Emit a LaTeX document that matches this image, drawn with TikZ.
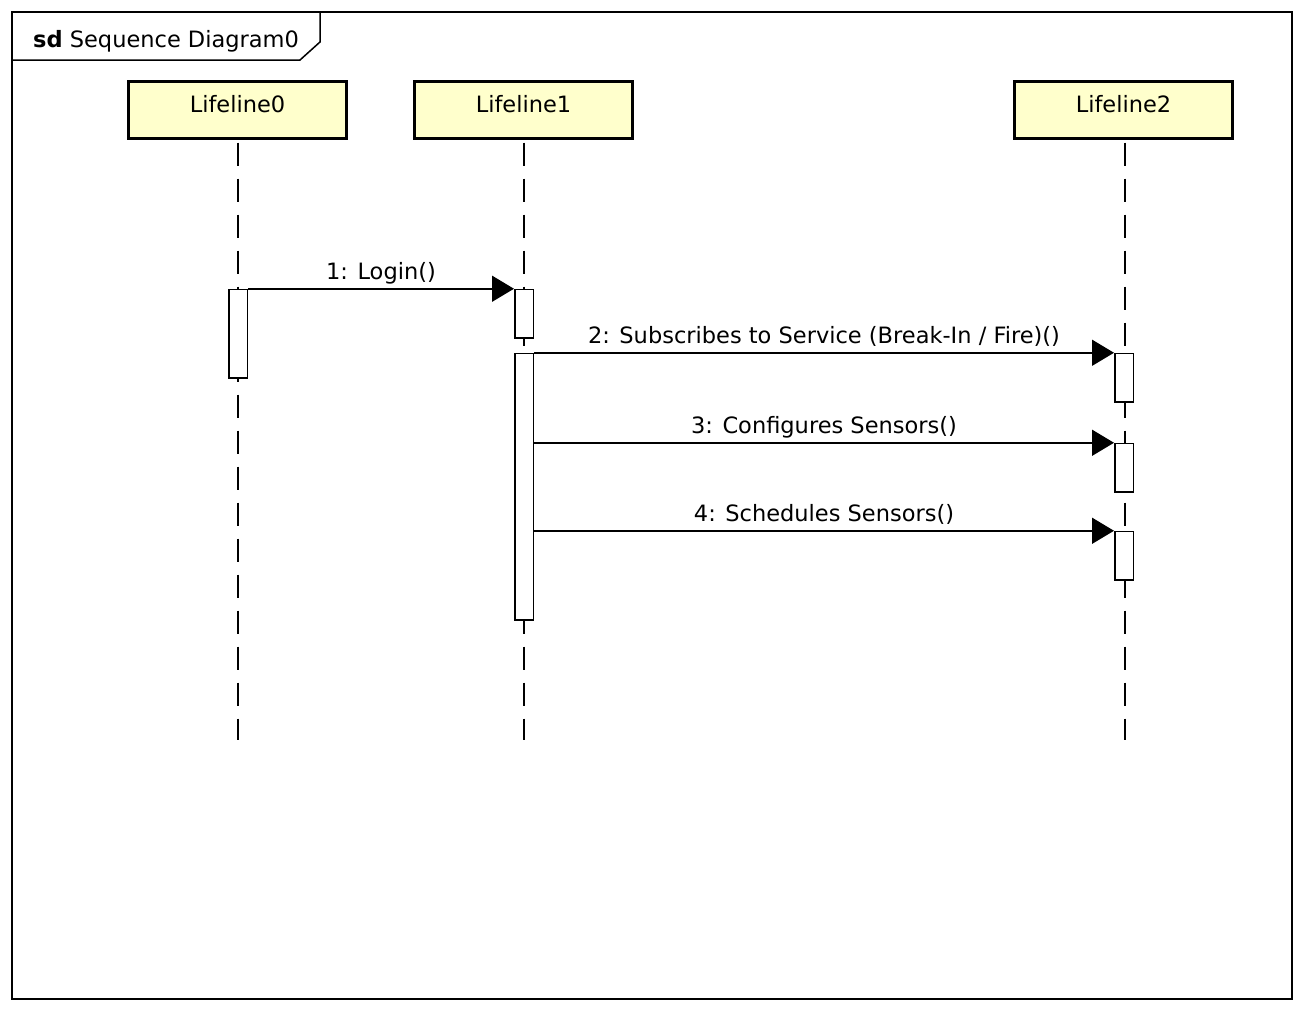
\documentclass[tikz,border=0pt]{standalone}
\usepackage{fontspec}
\setmainfont{DejaVu Sans}
\usetikzlibrary{arrows.meta}
\definecolor{headfill}{RGB}{255,255,204}
\begin{document}
\begin{tikzpicture}[x=1pt,y=-1pt,
  every node/.style={font=\fontsize{22.5}{27}\selectfont},
  head/.style={draw, line width=3pt, fill=headfill, minimum width=218pt, minimum height=57pt, inner sep=0pt, text height=17pt, text depth=13pt},
  act/.style={draw, line width=1.5pt, fill=white, minimum width=18.5pt, inner sep=0pt, anchor=north},
  life/.style={line width=2pt, dash pattern=on 23pt off 13pt},
  msg/.style={line width=1.5pt, -{Triangle[length=22pt,width=26pt]}},
  lbl/.style={anchor=base, inner sep=0pt, yshift=9pt}]
\useasboundingbox (0,0) rectangle (1300,1012);
% frame
\draw[line width=1.5pt] (12,12) rectangle (1292,999);
\draw[line width=1.5pt] (12,60) -- (300,60) -- (320,42) -- (320,12);
\node[anchor=base west, inner sep=0pt] (title) at (33,47) {\textbf{sd} Sequence Diagram0};
% heads
\node[head] (h0) at (237.5,110) {Lifeline0};
\node[head] (h1) at (523.5,110) {Lifeline1};
\node[head] (h2) at (1123.5,110) {Lifeline2};
\coordinate (e0) at (238,740);
\coordinate (e1) at (524,740);
\coordinate (e2) at (1125,740);
\draw[life] ([yshift=-2.5pt]h0.south -| e0) -- (e0);
\draw[life] ([yshift=-2.5pt]h1.south -| e1) -- (e1);
\draw[life] ([yshift=-2.5pt]h2.south -| e2) -- (e2);
% activations
\node[act, minimum height=88.5pt] (a0) at (238,288.75) {};
\node[act, minimum height=48.5pt] (a1a) at (524,288.75) {};
\node[act, minimum height=266.5pt] (a1b) at (524,352.75) {};
\node[act, minimum height=48.5pt] (a2a) at (1124,352.75) {};
\node[act, minimum height=48.5pt] (a2b) at (1124,442.75) {};
\node[act, minimum height=48.5pt] (a2c) at (1124,530.75) {};
% messages
\draw[msg] (a0.north east) -- node[lbl] {1: Login()} (a1a.north west);
\draw[msg] (a1b.north east) -- node[lbl] {2: Subscribes to Service (Break-In / Fire)()} (a2a.north west);
\draw[msg] (a1b.east |- a2b.north) -- node[lbl] {3: Configures Sensors()} (a2b.north west);
\draw[msg] (a1b.east |- a2c.north) -- node[lbl] {4: Schedules Sensors()} (a2c.north west);
\end{tikzpicture}
\end{document}
